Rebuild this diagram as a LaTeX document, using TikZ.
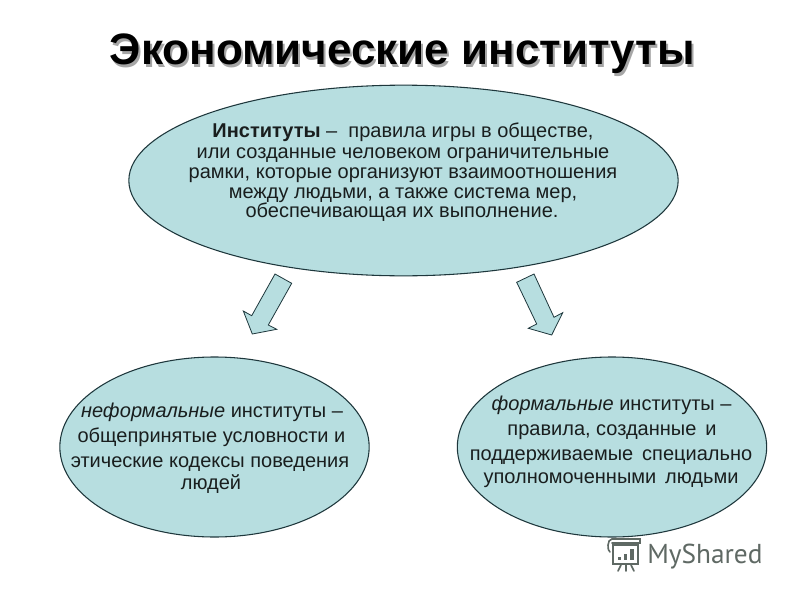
\documentclass[tikz,border=0pt]{standalone}
\usepackage{fontspec}
\setmainfont{Liberation Sans}
\newfontfamily\logofont{PT Sans}
\definecolor{fillblue}{RGB}{183,222,224}
\definecolor{edge}{RGB}{30,55,60}
\definecolor{logogray}{RGB}{95,105,100}
\definecolor{txt}{RGB}{25,30,30}
\tikzset{
  blob/.style={ellipse,draw=edge,fill=fillblue,line width=0.8pt,inner sep=0pt},
  ln/.style={anchor=base,inner sep=0pt,text=txt,font=\fontsize{15}{18}\selectfont},
  blockarrow/.style={draw=edge,fill=fillblue,line width=0.6pt,line join=miter},
  titletext/.style={anchor=base,inner sep=0pt,font=\bfseries\fontsize{33}{40}\selectfont},
  titleshade/.style={titletext,text=black,opacity=.35}
}
\usetikzlibrary{shapes.geometric}
\begin{document}
\begin{tikzpicture}[x=0.75pt,y=-0.75pt]
\useasboundingbox (0,0) rectangle (800,600);
\fill[white] (0,0) rectangle (800,600);
% title
\node[titleshade] (shade) at (404.5,67) {Экономические институты};
\node[titletext,text=black] (title) at (402.5,64.5) {Экономические институты};
% ellipses
\node[blob,minimum width=412pt,minimum height=143pt] (top) at (403.5,180.5) {};
\node[blob,minimum width=232pt,minimum height=135pt] (left) at (214.5,447) {};
\node[blob,minimum width=232pt,minimum height=135pt] (right) at (612,447) {};
% block arrows
\draw[blockarrow] (275,274) -- (291.7,283.3) -- (268.3,325) -- (276.7,329.3) -- (252.3,334) -- (243.3,311) -- (251.7,315.7) -- cycle;
\draw[blockarrow] (516.7,282.3) -- (534,274) -- (554,317.3) -- (562.7,312.7) -- (551.7,335) -- (528.3,328.3) -- (536.7,324) -- cycle;
% top text
\node[ln] (t1) at (403,137) {\textbf{Институты} – \ правила игры в обществе,};
\node[ln] (t2) at (403,158) {или созданные человеком ограничительные};
\node[ln] (t3) at (403,178) {рамки, которые организуют взаимоотношения};
\node[ln] (t4) at (403,198) {между людьми, а также система мер,};
\node[ln] (t5) at (402,217) {обеспечивающая их выполнение.};
% left text
\node[ln] (l1) at (212,417) {\textit{неформальные} институты –};
\node[ln] (l2) at (211.5,442) {общепринятые условности и};
\node[ln] (l3) at (210,467) {этические кодексы поведения};
\node[ln] (l4) at (211,489) {людей};
% right text
\node[ln] (r1) at (611.5,410) {\textit{формальные} институты –};
\node[ln] (r2) at (612,435) {правила, созданные \,и};
\node[ln] (r3) at (611,460) {поддерживаемые \,специально};
\node[ln] (r4) at (611,483) {уполномоченными \,людьми};
% logo
\begin{scope}[draw=logogray,line width=1.2pt,line cap=round]
\draw (612,539) -- (640,539) -- (640,543) -- (612,543);
\draw (612,539) .. controls (607,539) and (607,551) .. (610,552);
\draw (613,545) rectangle (638,564);
\fill[logogray] (618,557) rectangle (621,560);
\fill[logogray] (624,554) rectangle (627,560);
\fill[logogray] (630,549) rectangle (634,560);
\draw (621,565) -- (618,571) (626,565) -- (626,571) (631,565) -- (634,571);
\end{scope}
\node[anchor=base west,inner sep=0pt,text=logogray,font=\logofont\fontsize{20.5}{24}\selectfont] (logo) at (647,563) {MyShared};
\end{tikzpicture}
\end{document}
